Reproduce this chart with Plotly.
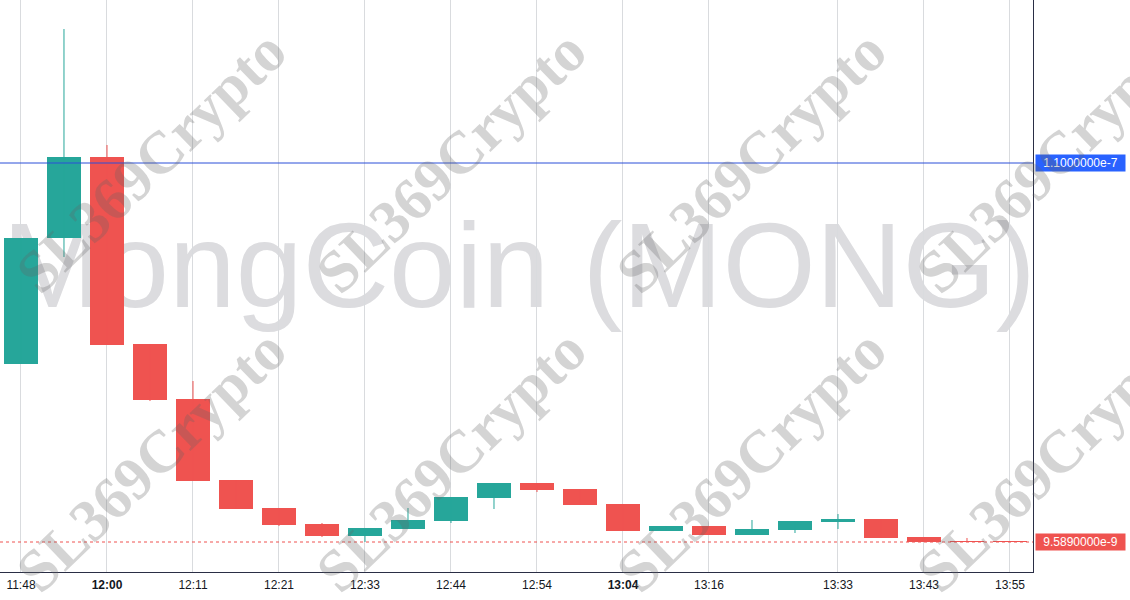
import plotly.graph_objects as go

# ---- data (prices in units of 1e-9) ----
times = ["11:48", "", "12:00", "", "12:11", "", "12:21", "", "12:33", "", "12:44", "", "12:54", "",
         "13:04", "", "13:16", "", "", "13:33", "", "13:43", "", "13:55"]
opens  = [56.75, 90.13, 111.59, 62.05, 47.47, 26.01, 18.60, 14.36, 11.18, 13.03, 15.15, 21.24,
          25.22, 23.63, 19.66, 12.50, 13.83, 11.44, 12.77, 14.89, 15.68, 10.91, 9.85, 9.80]
highs  = [90.13, 145.50, 114.77, 62.05, 52.24, 26.01, 18.60, 14.62, 13.30, 18.60, 21.51, 25.22,
          25.22, 23.63, 19.66, 13.83, 13.83, 15.42, 15.15, 17.00, 15.68, 10.91, 10.65, 9.80]
lows   = [56.75, 85.10, 61.78, 46.94, 25.75, 18.33, 13.83, 10.91, 9.589, 13.03, 14.62, 18.33,
          22.83, 19.39, 12.50, 12.50, 11.44, 11.44, 11.97, 13.03, 10.65, 9.589, 9.589, 9.589]
closes = [90.13, 111.59, 61.78, 47.21, 25.75, 18.33, 14.09, 11.18, 13.30, 15.42, 21.51, 25.22,
          23.36, 19.39, 12.50, 13.83, 11.44, 13.03, 15.15, 15.68, 10.65, 9.589, 9.589, 9.589]
bold_ticks = ["12:00", "13:04"]
high_line = 110.0      # 1.1000000e-7
last_price = 9.589     # 9.5890000e-9
scale = 1e-9

UP = "#26a69a"
DOWN = "#ef5350"

idx = list(range(len(opens)))
o = [v * scale for v in opens]
h = [v * scale for v in highs]
l = [v * scale for v in lows]
c = [v * scale for v in closes]

x_range = [-0.488, 23.535]
y_range = [1.64 * scale, 153.19 * scale]

fig = go.Figure()

# big symbol watermark on a background subplot (below grid and candles)
fig.add_trace(go.Scatter(
    x=[0.5024], y=[0.5149], xaxis="x", yaxis="y",
    mode="text", text=["MongCoin (MONG)"], textposition="middle center",
    textfont=dict(family="Liberation Sans, Arial", size=120, color="#dcdcdf"),
    hoverinfo="skip", showlegend=False))

# wicks
for col, sel in ((UP, lambda i: c[i] >= o[i]), (DOWN, lambda i: c[i] < o[i])):
    wx, wy = [], []
    for i in idx:
        if sel(i):
            wx += [i, i, None]
            wy += [l[i], h[i], None]
    fig.add_trace(go.Scatter(x=wx, y=wy, mode="lines", line=dict(color=col, width=1),
                             xaxis="x2", yaxis="y2", hoverinfo="skip", showlegend=False))

# bodies
colors = [UP if c[i] >= o[i] else DOWN for i in idx]
fig.add_trace(go.Bar(x=idx, y=[c[i] - o[i] for i in idx], base=o, width=0.77,
                     marker=dict(color=colors, line=dict(width=0)),
                     xaxis="x2", yaxis="y2", hoverinfo="skip", showlegend=False))

ticktext = []
tickvals = []
for i, t in enumerate(times):
    if t:
        tickvals.append(i)
        ticktext.append(f"<b>{t}</b>" if t in bold_ticks else t)

fig.update_layout(
    width=1130, height=600,
    margin=dict(l=0, r=97, t=0, b=28),
    paper_bgcolor="white", plot_bgcolor="rgba(0,0,0,0)",
    showlegend=False, bargap=0,
    font=dict(family="Liberation Sans, Arial", size=12, color="#131722"),
    xaxis=dict(domain=[0, 1], range=[0, 1], visible=False, fixedrange=True, anchor="y"),
    yaxis=dict(domain=[0, 1], range=[0, 1], visible=False, fixedrange=True, anchor="x"),
    xaxis2=dict(domain=[0, 1], anchor="y2", range=x_range, tickvals=tickvals, ticktext=ticktext,
                showgrid=True, gridcolor="#d9dbde", gridwidth=1, zeroline=False, showline=True,
                linecolor="#2a2e45", linewidth=1, ticks="", fixedrange=True,
                ticklabelstandoff=2, tickfont=dict(size=12, color="#131722")),
    yaxis2=dict(domain=[0, 1], anchor="x2", range=y_range, side="right", showticklabels=False,
                showgrid=False, zeroline=False, showline=True, linecolor="#2a2e45", linewidth=1,
                ticks="", fixedrange=True),
)

# price lines
fig.add_shape(type="line", xref="paper", x0=0, x1=1, yref="y2",
              y0=high_line * scale, y1=high_line * scale,
              line=dict(color="#2a4fd8", width=1))
fig.add_shape(type="line", xref="paper", x0=0, x1=1, yref="y2",
              y0=last_price * scale, y1=last_price * scale,
              line=dict(color=DOWN, width=1, dash="dot"))

# price labels
for val, txt, bg in ((high_line, "1.1000000e-7", "#2962ff"), (last_price, "9.5890000e-9", DOWN)):
    fig.add_annotation(xref="paper", x=1, xanchor="left", xshift=2, yref="y2", y=val * scale,
                       text=txt, showarrow=False, bgcolor=bg, borderpad=0, width=89, height=16,
                       align="center", valign="middle",
                       font=dict(family="Liberation Sans, Arial", size=12, color="white"))

# repeated diagonal watermark
pw, ph = 1033.0, 572.0
for cy in (162, 461):
    for cx in (151, 451, 751, 1051):
        fig.add_annotation(xref="paper", yref="paper", x=cx / pw, y=1 - cy / ph,
                           text="<b>SL369Crypto</b>", showarrow=False, textangle=-44,
                           xanchor="center", yanchor="middle",
                           font=dict(family="Liberation Serif, Times New Roman", size=60,
                                     color="rgba(100,100,100,0.28)"))

fig.write_html("out.html", config={"displayModeBar": False},
               post_script="document.body.style.margin='0';document.body.style.overflow='hidden';")
